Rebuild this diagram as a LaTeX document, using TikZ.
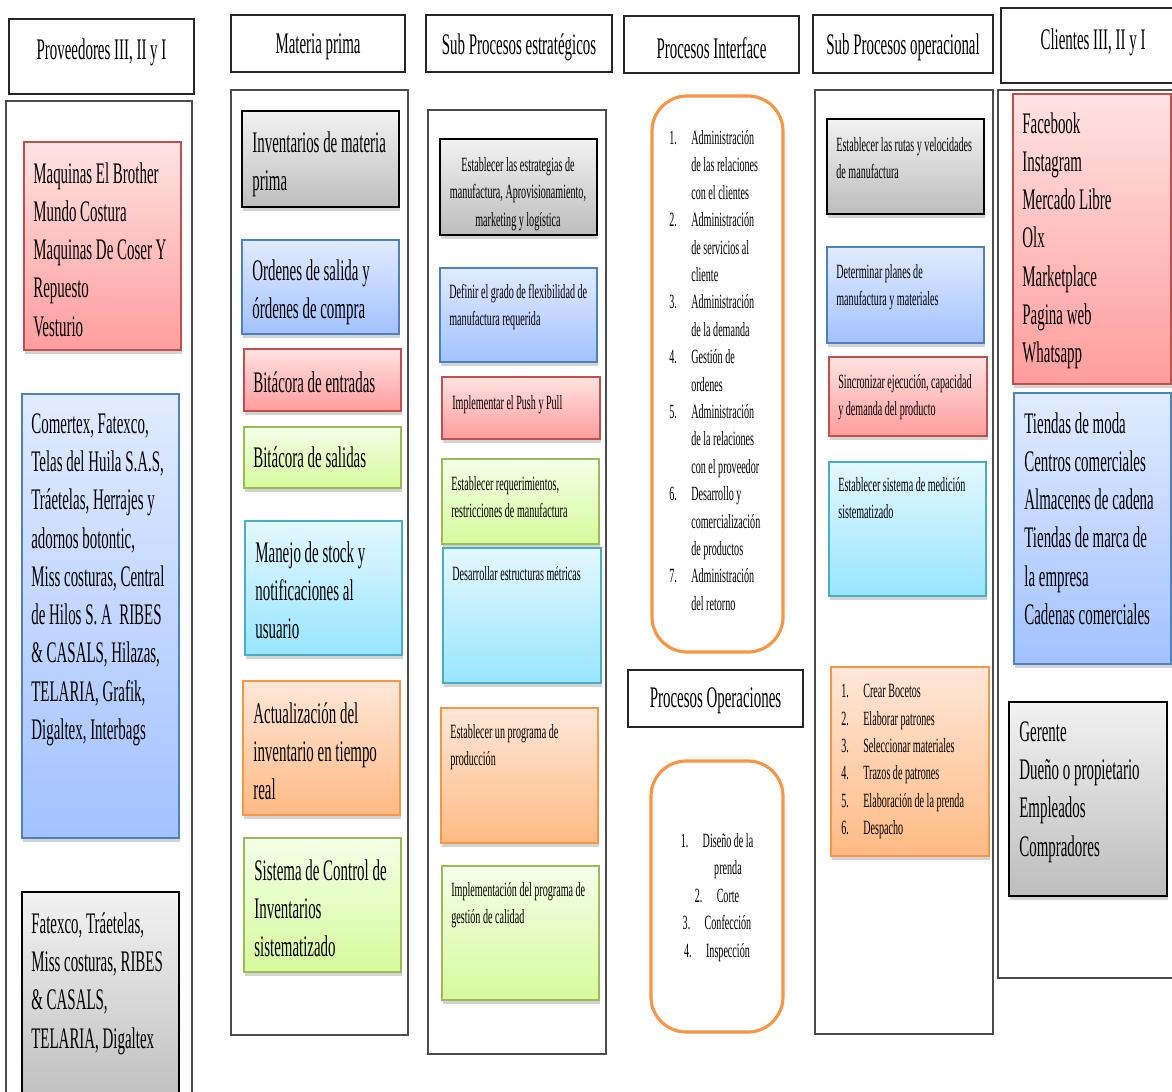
\documentclass[tikz,border=0pt]{standalone}
\usepackage{fontspec}
\setmainfont{Liberation Serif}[FakeStretch=0.5]
\usepackage{tikz}
\usetikzlibrary{fit,shadows}

\definecolor{redline}{HTML}{C0504D}
\definecolor{redtop}{HTML}{FFE2E2}
\definecolor{redbot}{HTML}{FF9D9D}
\definecolor{blueline}{HTML}{4F81BD}
\definecolor{bluetop}{HTML}{E1EBFF}
\definecolor{bluebot}{HTML}{A2C2FF}
\definecolor{greenline}{HTML}{9BBB59}
\definecolor{greentop}{HTML}{F4FFE8}
\definecolor{greenbot}{HTML}{D6FA9C}
\definecolor{cyanline}{HTML}{4BACC6}
\definecolor{cyantop}{HTML}{E4F8FF}
\definecolor{cyanbot}{HTML}{98E5FF}
\definecolor{orangeline}{HTML}{F79646}
\definecolor{orangetop}{HTML}{FFE7D8}
\definecolor{orangebot}{HTML}{FFBA84}
\definecolor{graytop}{HTML}{F2F2F2}
\definecolor{graybot}{HTML}{BDBDBD}

\newcommand{\nr}[1]{\makebox[12.5pt][l]{#1}}
\newcommand{\ind}{\hspace*{12.5pt}}

\begin{document}
\begin{tikzpicture}[
    x=0.02cm, y=-0.02cm,
    hdbox/.style={draw=black!85, line width=0.8pt, inner sep=0pt},
    colbox/.style={draw=black!70, line width=0.8pt, inner sep=0pt},
    gbox/.style={inner sep=0pt, line width=0.9pt,
      drop shadow={shadow xshift=0.6pt, shadow yshift=-2.2pt, opacity=0.35}},
    redbox/.style={gbox, draw=redline, top color=redtop, bottom color=redbot},
    bluebox/.style={gbox, draw=blueline, top color=bluetop, bottom color=bluebot},
    greenbox/.style={gbox, draw=greenline, top color=greentop, bottom color=greenbot},
    cyanbox/.style={gbox, draw=cyanline, top color=cyantop, bottom color=cyanbot},
    orangebox/.style={gbox, draw=orangeline, top color=orangetop, bottom color=orangebot},
    graybox/.style={gbox, draw=black, line width=1.1pt, top color=graytop, bottom color=graybot},
    roundbox/.style={draw=orangeline, line width=1.8pt, rounded corners=20pt, inner sep=0pt},
    bigtxt/.style={font=\fontsize{17}{21.8}\selectfont, align=left, anchor=north west, inner sep=0pt},
    smalltxt/.style={font=\fontsize{11.5}{15.6}\selectfont, align=left, anchor=north west, inner sep=0pt},
    hdtxt/.style={font=\fontsize{17}{20}\selectfont, inner sep=0pt},
  ]
  \useasboundingbox (0,0) rectangle (1172,1091);

  \node[hdbox, fit={(9,19) (194,94)}] (hProv) {};
  \node[hdtxt] (hProv-t) at (101.5,52) {Proveedores III, II y I};
  \node[hdbox, fit={(231,15) (405,72)}] (hMat) {};
  \node[hdtxt] (hMat-t) at (318,47) {Materia prima};
  \node[hdbox, fit={(426,15) (612,72)}] (hEst) {};
  \node[hdtxt] (hEst-t) at (519,47) {Sub Procesos estratégicos};
  \node[hdbox, fit={(624,16) (799,73)}] (hInt) {};
  \node[hdtxt] (hInt-t) at (711.5,48) {Procesos Interface};
  \node[hdbox, fit={(813,15) (993,73)}] (hOpe) {};
  \node[hdtxt] (hOpe-t) at (903,47) {Sub Procesos operacional};
  \node[hdbox, fit={(1001,8) (1185,83)}] (hCli) {};
  \node[hdtxt] (hCli-t) at (1093,42) {Clientes III, II y I};

  \node[colbox, fit={(6,101) (192,1110)}] (cProv) {};
  \node[colbox, fit={(231,90) (408,1035)}] (cMat) {};
  \node[colbox, fit={(428,110) (606,1054)}] (cEst) {};
  \node[colbox, fit={(815,90) (993,1034)}] (cOpe) {};
  \node[colbox, fit={(998,90) (1185,978)}] (cCli) {};

  \node[redbox, fit={(24,142) (181,350)}] (pRed) {};
  \node[bigtxt] (pRed-t) at (33,162) {Maquinas El Brother\\Mundo Costura\\Maquinas De Coser Y\\Repuesto\\Vesturio};
  \node[bluebox, fit={(22,394) (179,838)}] (pBlue) {};
  \node[bigtxt] (pBlue-t) at (31,413) {Comertex, Fatexco,\\Telas del Huila S.A.S,\\Tráetelas, Herrajes y\\adornos botontic,\\Miss costuras, Central\\de Hilos S. A\ \ RIBES\\\& CASALS, Hilazas,\\TELARIA, Grafik,\\Digaltex, Interbags};
  \node[graybox, fit={(22,892) (179,1110)}] (pGray) {};
  \node[bigtxt] (pGray-t) at (31,912) {Fatexco, Tráetelas,\\Miss costuras, RIBES\\\& CASALS,\\TELARIA, Digaltex};

  \node[graybox, fit={(242,111) (399,207)}] (mInv) {};
  \node[bigtxt] (mInv-t) at (252,131) {Inventarios de materia\\prima};
  \node[bluebox, fit={(242,240) (399,334)}] (mOrd) {};
  \node[bigtxt] (mOrd-t) at (252,259) {Ordenes de salida y\\órdenes de compra};
  \node[redbox, fit={(244,349) (401,411)}] (mEnt) {};
  \node[bigtxt] (mEnt-t) at (253,371) {Bitácora de entradas};
  \node[greenbox, fit={(244,427) (401,488)}] (mSal) {};
  \node[bigtxt] (mSal-t) at (253,446) {Bitácora de salidas};
  \node[cyanbox, fit={(245,521) (402,655)}] (mSto) {};
  \node[bigtxt] (mSto-t) at (255,541) {Manejo de stock y\\notificaciones al\\usuario};
  \node[orangebox, fit={(243,681) (400,815)}] (mAct) {};
  \node[bigtxt] (mAct-t) at (253,702) {Actualización del\\inventario en tiempo\\real};
  \node[greenbox, fit={(244,838) (401,972)}] (mSis) {};
  \node[bigtxt] (mSis-t) at (254,859) {Sistema de Control de\\Inventarios\\sistematizado};

  \node[graybox, fit={(440,139) (597,235)}] (eEst) {};
  \node[smalltxt, align=center, anchor=north] (eEst-t) at (518,157) {Establecer las estrategias de\\manufactura, Aprovisionamiento,\\marketing y logística};
  \node[bluebox, fit={(440,268) (597,362)}] (eDef) {};
  \node[smalltxt] (eDef-t) at (449,284) {Definir el grado de flexibilidad de\\manufactura requerida};
  \node[redbox, fit={(442,377) (600,439)}] (eImp) {};
  \node[smalltxt] (eImp-t) at (452,395) {Implementar el Push y Pull};
  \node[greenbox, fit={(442,459) (599,544)}] (eReq) {};
  \node[smalltxt] (eReq-t) at (451,476) {Establecer requerimientos,\\restricciones de manufactura};
  \node[cyanbox, fit={(443,548) (601,683)}] (eMet) {};
  \node[smalltxt] (eMet-t) at (452,566) {Desarrollar estructuras métricas};
  \node[orangebox, fit={(441,708) (598,843)}] (ePro) {};
  \node[smalltxt] (ePro-t) at (450,724) {Establecer un programa de\\producción};
  \node[greenbox, fit={(442,866) (599,1000)}] (eCal) {};
  \node[smalltxt] (eCal-t) at (451,882) {Implementación del programa de\\gestión de calidad};

  \node[roundbox, fit={(652,96) (783,652)}] (iList) {};
  \node[smalltxt] (iList-t) at (669,130) {\nr{1.}Administración\\\ind de las relaciones\\\ind con el clientes\\\nr{2.}Administración\\\ind de servicios al\\\ind cliente\\\nr{3.}Administración\\\ind de la demanda\\\nr{4.}Gestión de\\\ind ordenes\\\nr{5.}Administración\\\ind de la relaciones\\\ind con el proveedor\\\nr{6.}Desarrollo y\\\ind comercialización\\\ind de productos\\\nr{7.}Administración\\\ind del retorno};
  \node[hdbox, fit={(628,670) (803,727)}] (hPop) {};
  \node[hdtxt] (hPop-t) at (715.5,701) {Procesos Operaciones};
  \node[roundbox, fit={(651,761) (783,1032)}] (oList) {};
  \node[smalltxt, align=center, anchor=north] (oList-t) at (717,833) {\nr{1.}Diseño de la\\\ind prenda\\\nr{2.}Corte\\\nr{3.}Confección\\\nr{4.}Inspección};

  \node[graybox, fit={(827,119) (984,214)}] (sRut) {};
  \node[smalltxt] (sRut-t) at (836,137) {Establecer las rutas y velocidades\\de manufactura};
  \node[bluebox, fit={(827,247) (984,343)}] (sPla) {};
  \node[smalltxt] (sPla-t) at (836,264) {Determinar planes de\\manufactura y materiales};
  \node[redbox, fit={(829,357) (987,436)}] (sSin) {};
  \node[smalltxt] (sSin-t) at (838,374) {Sincronizar ejecución, capacidad\\y demanda del producto};
  \node[cyanbox, fit={(829,462) (986,596)}] (sMed) {};
  \node[smalltxt] (sMed-t) at (838,477) {Establecer sistema de medición\\sistematizado};
  \node[orangebox, fit={(831,667) (989,856)}] (sPas) {};
  \node[smalltxt] (sPas-t) at (841,684) {\nr{1.}Crear Bocetos\\\nr{2.}Elaborar patrones\\\nr{3.}Seleccionar materiales\\\nr{4.}Trazos de patrones\\\nr{5.}Elaboración de la prenda\\\nr{6.}Despacho};

  \node[redbox, fit={(1013,94) (1171,384)}] (kRed) {};
  \node[bigtxt] (kRed-t) at (1022,112) {Facebook\\Instagram\\Mercado Libre\\Olx\\Marketplace\\Pagina web\\Whatsapp};
  \node[bluebox, fit={(1014,393) (1171,664)}] (kBlue) {};
  \node[bigtxt] (kBlue-t) at (1024,412) {Tiendas de moda\\Centros comerciales\\Almacenes de cadena\\Tiendas de marca de\\la empresa\\Cadenas comerciales};
  \node[graybox, fit={(1009,702) (1167,896)}] (kGray) {};
  \node[bigtxt] (kGray-t) at (1019,721) {Gerente\\Dueño o propietario\\Empleados\\Compradores};
\end{tikzpicture}
\end{document}
